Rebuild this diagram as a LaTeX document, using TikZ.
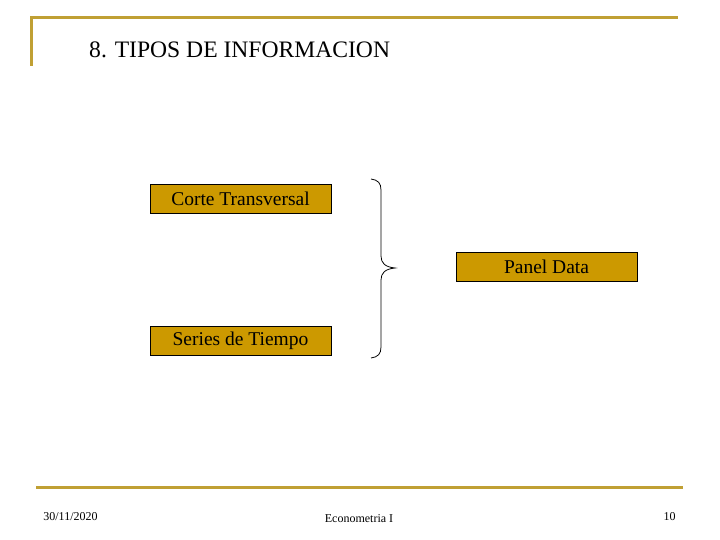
\documentclass[tikz,border=0pt]{standalone}
\usepackage{fontspec}
\setmainfont{Liberation Serif}
\definecolor{gold}{RGB}{192,160,52}
\definecolor{boxfill}{RGB}{204,153,0}
\begin{document}
\begin{tikzpicture}[x=1pt,y=-1pt,
  box/.style={draw=black,fill=boxfill,line width=0.8pt,minimum width=181pt,minimum height=29pt,inner sep=0pt,font=\fontsize{19.5}{21}\selectfont},
  rule/.style={draw=gold,line width=3pt},
  foot/.style={font=\fontsize{12}{14}\selectfont,anchor=base}]
\useasboundingbox (0,0) rectangle (720,540);
\draw[rule] (30,18) -- (678,18);
\draw[rule] (31,16.5) -- (31,66);
\draw[rule] (36,487) -- (683,487);
\node[anchor=base west,inner sep=0pt,font=\fontsize{23.6}{26}\selectfont] (title) at (89,58) {8. TIPOS DE INFORMACION};
\node[box] (ct) at (240.5,198.5) {Corte Transversal};
\node[box] (st) at (240.5,340.5) {Series de Tiempo};
\node[box] (pd) at (546.5,267) {Panel Data};
\coordinate (btop) at (371,179);
\coordinate (bbot) at (371,358);
\coordinate (btip) at (395,268);
\draw[line width=0.8pt] (btop) .. controls (378,180) and (381,183) .. (381,190)
  -- (381,256) .. controls (381,263) and (385,267) .. (btip)
  .. controls (385,269) and (381,273) .. (381,280)
  -- (381,347) .. controls (381,354) and (378,357) .. (bbot);
\node[foot] (date) at (70.5,520) {30/11/2020};
\node[foot] (course) at (359,522) {Econometria I};
\node[foot] (page) at (669.5,520) {10};
\end{tikzpicture}
\end{document}
